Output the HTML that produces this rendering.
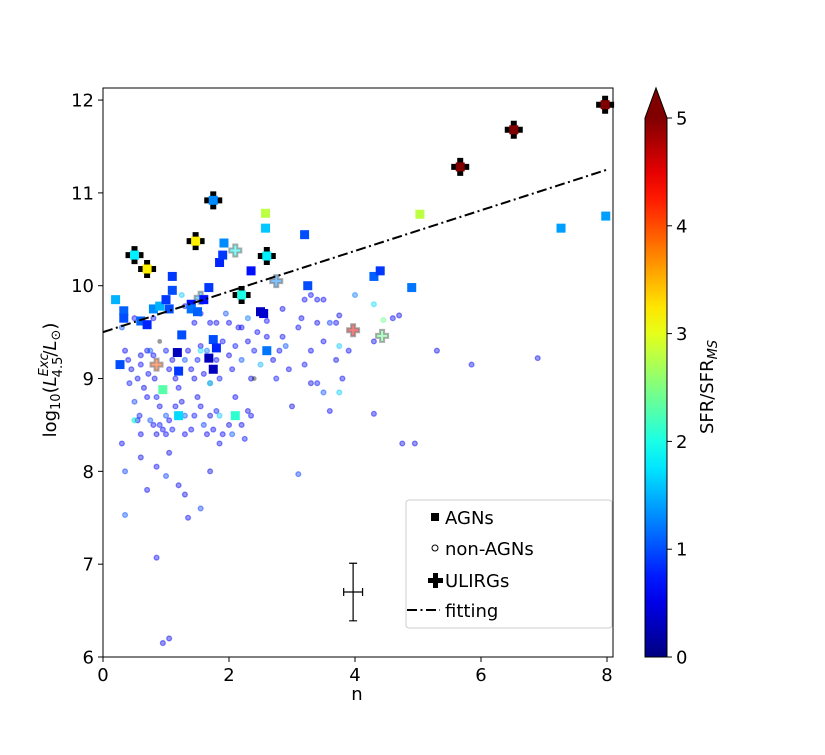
<!DOCTYPE html>
<html><head><meta charset="utf-8"><style>
html,body{margin:0;padding:0;background:#fff;}
svg text{font-family:"DejaVu Sans","Liberation Sans",sans-serif;}
</style></head><body>
<svg id="chart" width="825" height="750" viewBox="0 0 825 750" xmlns="http://www.w3.org/2000/svg">
<rect width="825" height="750" fill="#fff"/>
<g id="marks"></g>
<g id="axes"></g>
</svg>
<script>
// data arrays
const xTicks = [0,2,4,6,8];
const yTicks = [6,7,8,9,10,11,12];
const cbTicks = [0,1,2,3,4,5];
const fitLine = [[0,9.5],[8,11.25]];
const nonAgnX = [0.35,0.4,0.45,0.42,0.55,0.6,0.6,0.5,0.5,0.55,0.6,0.58,0.65,0.7,0.75,0.72,0.8,0.82,0.85,0.7,0.75,0.8,0.85,0.9,0.9,0.95,1.0,1.0,1.05,1.05,1.1,1.15,1.2,1.25,1.3,1.3,1.4,1.45,1.5,1.55,1.6,1.65,1.7,1.75,1.8,1.85,1.9,2.0,2.05,2.1,2.2,2.25,2.3,2.35,1.0,1.05,1.1,1.15,1.3,1.35,1.4,1.45,1.5,1.55,1.6,1.65,1.7,1.8,1.85,1.9,2.0,2.05,2.1,2.15,2.2,2.3,2.35,2.4,2.45,2.6,2.7,2.75,2.8,2.85,2.9,2.95,3.0,3.1,3.2,3.3,3.4,3.5,3.6,3.5,3.7,3.8,3.9,3.4,3.3,3.5,3.6,3.7,3.75,3.15,4.0,4.3,4.3,4.6,4.7,4.75,4.95,5.3,5.85,6.9,3.3,3.1,0.3,0.35,0.35,0.6,0.85,1.2,1.3,1.35,1.55,1.7,1.0,0.85,0.95,1.05,0.7,0.3,0.5,0.8,1.25,1.3,1.45,1.55,1.7,1.8,1.95,2.0,2.2,2.3,2.6,2.85,3.2,3.4,3.75,4.3,4.45,0.5,1.7,2.5,3.75,1.85,1.55,2.4,0.9];
const nonAgnY = [9.3,9.2,9.1,8.95,9.0,9.25,9.15,8.75,8.55,8.55,8.4,8.6,8.9,9.3,9.3,9.05,9.25,9.0,8.8,8.8,8.55,8.5,8.4,8.5,8.7,8.45,8.6,8.4,8.55,8.2,8.45,8.7,8.9,8.75,8.6,8.4,8.45,8.6,8.8,8.7,8.5,8.4,8.6,8.45,8.65,8.3,8.4,8.5,8.4,8.8,8.5,8.35,8.65,8.6,9.3,9.1,9.2,9.0,9.2,9.3,9.1,9.0,9.2,9.35,9.05,9.3,8.95,9.2,9.0,9.4,9.25,9.1,9.35,9.55,9.2,9.4,9.0,9.3,9.5,9.45,9.2,9.0,9.3,9.45,9.35,9.1,8.7,9.55,9.15,9.3,9.6,9.85,9.6,9.4,9.2,9.0,9.3,8.95,8.95,8.85,8.65,9.6,9.35,9.65,9.9,9.4,8.62,9.65,9.68,8.3,8.3,9.3,9.15,9.22,9.9,7.97,8.3,8.0,7.53,8.15,8.05,7.85,7.75,7.5,7.6,8.0,7.95,7.07,6.15,6.2,7.8,9.55,9.65,9.65,9.9,9.78,9.6,9.7,9.6,9.6,9.7,9.6,9.55,9.65,9.62,9.75,9.85,9.85,9.68,9.8,9.63,8.55,8.95,9.15,8.85,8.6,9.3,9.0,9.4];
const nonAgnC = [0.6,0.6,0.5,0.7,0.6,0.5,0.6,0.9,1.7,0.6,0.6,0.7,0.5,0.6,1.0,0.6,0.6,0.5,0.7,0.6,1.0,0.6,0.5,0.7,0.6,0.6,1.0,0.6,0.6,0.5,0.7,0.6,0.6,0.5,1.0,0.6,0.6,0.7,0.5,0.6,0.9,0.6,0.5,0.6,0.7,0.6,0.6,0.5,1.0,0.6,0.6,0.7,0.5,0.6,0.7,0.6,0.5,0.6,1.0,0.6,0.6,0.5,0.7,0.6,0.6,1.2,0.5,0.6,0.7,0.6,0.5,0.6,0.7,0.6,1.0,0.5,0.6,0.7,0.6,0.6,0.5,0.7,0.6,0.6,1.0,0.6,0.5,0.6,0.7,0.6,0.5,0.6,0.9,0.6,0.5,0.6,0.6,0.7,0.5,1.0,0.6,0.6,1.6,0.6,1.2,0.5,0.6,0.6,0.5,0.5,0.5,0.5,0.6,0.5,0.6,0.9,0.6,0.9,1.0,0.5,0.6,0.5,0.5,0.6,0.9,0.5,0.9,0.6,0.5,0.5,0.6,1.0,0.6,0.6,1.6,0.5,0.6,0.7,0.6,0.5,1.0,0.6,0.6,1.2,0.6,0.5,0.6,0.6,0.5,1.7,2.4,2.2,2.0,1.5,1.6,1.6,1.7];
const agnX = [0.2,0.33,0.33,0.27,0.6,0.7,0.8,0.9,1.0,1.1,1.1,1.05,1.4,1.4,1.5,1.6,1.68,1.75,1.8,1.68,1.75,1.25,1.18,1.2,0.95,1.2,2.1,1.85,1.9,1.92,2.58,2.58,2.35,2.5,2.55,2.6,3.2,3.25,4.3,4.4,4.9,5.03,7.27,7.98];
const agnY = [9.85,9.73,9.65,9.15,9.62,9.58,9.75,9.78,9.85,9.95,10.1,9.75,9.8,9.75,9.72,9.85,9.98,9.42,9.33,9.22,9.1,9.47,9.28,9.08,8.88,8.6,8.6,10.25,10.33,10.46,10.62,10.78,10.16,9.72,9.7,9.3,10.55,10.0,10.1,10.16,9.98,10.77,10.62,10.75];
const agnC = [1.5,1.1,1.0,1.0,1.1,0.8,1.3,1.5,0.9,1.0,0.9,1.0,0.7,1.2,1.1,0.7,0.9,1.0,0.8,0.3,0.3,1.0,0.3,0.9,2.3,1.7,2.1,0.8,0.9,1.3,1.6,2.8,0.7,0.3,0.4,1.2,1.0,1.0,1.1,0.9,1.2,2.8,1.4,1.4];
const ulirgX = [0.5,0.7,1.75,1.47,2.2,2.6,5.67,6.52,7.97];
const ulirgY = [10.33,10.18,10.92,10.48,9.9,10.32,11.28,11.68,11.95];
const ulirgC = [1.8,3.2,1.3,3.2,2.0,1.8,5.2,5.2,5.2];
const fadedX = [2.1,2.75,3.97,4.43,0.85,1.55];
const fadedY = [10.38,10.05,9.52,9.46,9.15,9.87];
const fadedC = [1.9,1.3,4.5,2.4,4.0,1.5];

const X0=103,X1=613,XMIN=0,XMAX=8.095;
const Y0=657,Y1=88,YMIN=6,YMAX=12.13;
const sx=v=>X0+(v-XMIN)/(XMAX-XMIN)*(X1-X0);
const sy=v=>Y0-(v-YMIN)/(YMAX-YMIN)*(Y0-Y1);
function jet(c){let t=Math.max(0,Math.min(1,c/5));
 const f=v=>Math.round(255*Math.max(0,Math.min(1,v)));
 const r=f(1.5-Math.abs(4*t-3)),g=f(1.5-Math.abs(4*t-2)),b=f(1.5-Math.abs(4*t-1));
 return `rgb(${r},${g},${b})`;}
const NS='http://www.w3.org/2000/svg';
function mk(tag,attrs,parent){const e=document.createElementNS(NS,tag);for(const k in attrs)e.setAttribute(k,attrs[k]);parent.appendChild(e);return e;}
const marks=document.getElementById('marks'), axes=document.getElementById('axes');
function cross(cx,cy,s,attrs,parent){
 const a=s/3;
 const d=`M${cx-a/2},${cy-s/2}h${a}v${a}h${a}v${a}h${-a}v${a}h${-a}v${-a}h${-a}v${-a}h${a}z`;
 return mk('path',Object.assign({d},attrs),parent);}
// non-AGN
nonAgnX.forEach((x,i)=>{
 const e=mk('circle',{cx:sx(x),cy:sy(nonAgnY[i]),r:2.4,fill:jet(nonAgnC[i]),'fill-opacity':0.4,stroke:jet(nonAgnC[i]),'stroke-opacity':0.45,'stroke-width':1.3},marks);
 
 
});
// faded ULIRG
fadedX.forEach((x,i)=>{
 const e=cross(sx(x),sy(fadedY[i]),12,{fill:jet(fadedC[i]),'fill-opacity':0.5,stroke:'#777','stroke-opacity':0.6,'stroke-width':2},marks);
 
 
});
// AGN
agnX.forEach((x,i)=>{
 const e=mk('rect',{x:sx(x)-4.5,y:sy(agnY[i])-4.5,width:9,height:9,fill:jet(agnC[i])},marks);
 
 
});
// ULIRG
ulirgX.forEach((x,i)=>{
 const e=cross(sx(x),sy(ulirgY[i]),18,{fill:'#000'},marks);
 
 
 const c=mk('rect',{x:sx(x)-4.5,y:sy(ulirgY[i])-4.5,width:9,height:9,fill:jet(ulirgC[i])},marks);
 
 
});
// fit line
const fl=mk('line',{x1:sx(fitLine[0][0]),y1:sy(fitLine[0][1]),x2:sx(fitLine[1][0]),y2:sy(fitLine[1][1]),stroke:'#000','stroke-width':2,'stroke-dasharray':'10 3.5 2 3.5'},marks);


// error bar
const eb=mk('path',{d:`M${sx(3.82)},${sy(6.7)}H${sx(4.12)}M${sx(3.82)},${sy(6.7)-4}v8M${sx(4.12)},${sy(6.7)-4}v8M${sx(3.97)},${sy(6.39)}V${sy(7.01)}M${sx(3.97)-4},${sy(6.39)}h8M${sx(3.97)-4},${sy(7.01)}h8`,stroke:'#000','stroke-width':1.2,fill:'none'},marks);


// frame
const fr=mk('rect',{x:X0,y:Y1,width:X1-X0,height:Y0-Y1,fill:'none',stroke:'#000','stroke-width':1},axes);


xTicks.forEach(t=>{
 mk('line',{x1:sx(t),x2:sx(t),y1:Y0,y2:Y0+5,stroke:'#000'},axes);
 const tx=mk('text',{x:sx(t),y:Y0+24,'font-size':18,'text-anchor':'middle'},axes);tx.textContent=t;
 
 
});
yTicks.forEach(t=>{
 mk('line',{x1:X0-5,x2:X0,y1:sy(t),y2:sy(t),stroke:'#000'},axes);
 const tx=mk('text',{x:X0-9,y:sy(t)+6.5,'font-size':18,'text-anchor':'end'},axes);tx.textContent=t;
 
 
});
// colorbar
const CB={x:645,w:22,top:118,bot:657};
const defs=mk('defs',{},axes);
const gr=mk('linearGradient',{id:'jetg',x1:0,y1:1,x2:0,y2:0},defs);
for(let i=0;i<=20;i++)mk('stop',{offset:i/20,'stop-color':jet(i/4)},gr);
const cb=mk('rect',{x:CB.x,y:CB.top,width:CB.w,height:CB.bot-CB.top,fill:'url(#jetg)'},axes);


const tri=mk('path',{d:`M${CB.x},${CB.top}L${CB.x+CB.w/2},88L${CB.x+CB.w},${CB.top}Z`,fill:'rgb(128,0,0)'},axes);


mk('path',{d:`M${CB.x},${CB.top}L${CB.x+CB.w/2},88L${CB.x+CB.w},${CB.top}V${CB.bot}H${CB.x}Z`,fill:'none',stroke:'#000','stroke-width':1},axes);
cbTicks.forEach(t=>{
 const y=CB.bot-t/5*(CB.bot-CB.top);
 mk('line',{x1:CB.x+CB.w,x2:CB.x+CB.w+5,y1:y,y2:y,stroke:'#000'},axes);
 const tx=mk('text',{x:CB.x+CB.w+9,y:y+6.5,'font-size':18},axes);tx.textContent=t;
 
 
});
</script>
<svg width="825" height="750" style="position:absolute;left:0;top:0" xmlns="http://www.w3.org/2000/svg">
<text x="357" y="700" font-size="18" text-anchor="middle">n</text>
<text transform="translate(56,380) rotate(-90)" font-size="18" text-anchor="middle">log<tspan font-size="13" dy="4">10</tspan><tspan dy="-4">(</tspan><tspan font-style="italic">L</tspan><tspan font-size="13" font-style="italic" dy="-8">Exc</tspan><tspan font-size="13" dx="-24" dy="14">4.5</tspan><tspan dy="-6">/</tspan><tspan font-style="italic">L</tspan><tspan font-size="13" dy="4">⊙</tspan><tspan dy="-4">)</tspan></text>
<text transform="translate(713,387) rotate(-90)" font-size="18" text-anchor="middle">SFR/SFR<tspan font-size="13" font-style="italic" dy="4">MS</tspan></text>
<g>
<rect x="406" y="500" width="206" height="128" rx="3" fill="#fff" fill-opacity="0.8" stroke="#ccc"/>
<rect x="431" y="513" width="8" height="8" fill="#000"/>
<text x="445" y="524" font-size="18">AGNs</text>
<circle cx="435" cy="548" r="3" fill="none" stroke="#000"/>
<text x="445" y="555" font-size="18">non-AGNs</text>
<path d="M433,573h5v5h5v5h-5v5h-5v-5h-5v-5h5z" fill="#000"/>
<text x="445" y="587" font-size="18">ULIRGs</text>
<line x1="407" y1="610" x2="440" y2="610" stroke="#000" stroke-width="2" stroke-dasharray="10 3.5 2 3.5"/>
<text x="445" y="617" font-size="18">fitting</text>
</g>
</svg>
</body></html>
